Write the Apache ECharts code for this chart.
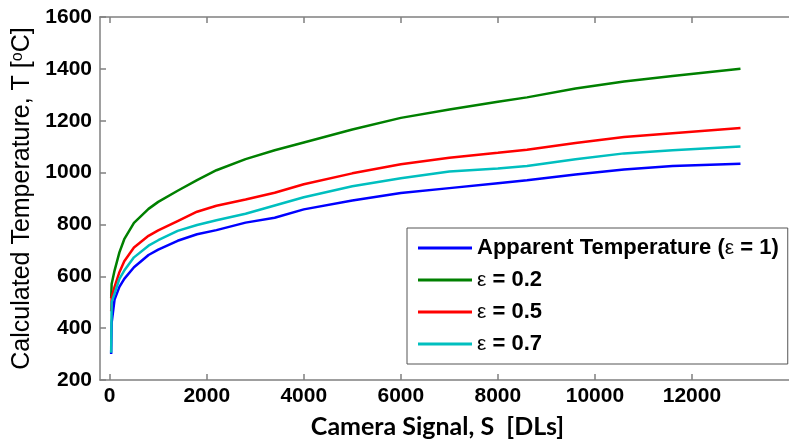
<!DOCTYPE html>
<html>
<head>
<meta charset="utf-8">
<script src="https://cdn.jsdelivr.net/npm/echarts@6/dist/echarts.min.js"></script>
<style>
  html, body { margin: 0; padding: 0; background: #fff; }
  #chart { width: 789px; height: 444px; }
</style>
</head>
<body>
<div id="chart"></div>
<script>
// camera signal (DLs)
const signal = [30, 40, 100, 200, 300, 500, 800, 1000, 1400, 1800, 2200, 2800, 3400, 4000, 5000, 6000, 7000, 8000, 8600, 9600, 10600, 11600, 13000];
// calculated temperature (°C)
const tApparent = [300, 420, 510, 559, 590, 635, 682, 703, 737, 762, 778, 807, 826, 858, 892, 921, 940, 959, 970, 993, 1012, 1025, 1034];
const tEps02 = [515, 570, 622, 692, 743, 806, 860, 887, 930, 971, 1009, 1052, 1086, 1116, 1166, 1211, 1243, 1273, 1290, 1324, 1351, 1372, 1400];
const tEps05 = [465, 520, 559, 616, 658, 711, 756, 777, 813, 849, 872, 896, 922, 955, 997, 1032, 1057, 1076, 1088, 1114, 1137, 1152, 1172];
const tEps07 = [305, 500, 533, 590, 622, 673, 718, 739, 775, 798, 816, 841, 873, 905, 947, 978, 1004, 1016, 1025, 1051, 1074, 1086, 1101];

const seriesNames = ['Apparent Temperature (ε = 1)', 'ε = 0.2', 'ε = 0.5', 'ε = 0.7'];
const seriesColors = ['#0000ff', '#008000', '#ff0000', '#00bfbf'];
const seriesValues = [tApparent, tEps02, tEps05, tEps07];

const xTicks = [0, 2000, 4000, 6000, 8000, 10000, 12000];

const axisGray = '#808080';

const chart = echarts.init(document.getElementById('chart'), null, { renderer: 'canvas' });

const option = {
    animation: false,
    backgroundColor: '#fff',
    grid: { left: 100, right: -21, top: 17, bottom: 60, containLabel: false },
    legend: {
        orient: 'vertical',
        left: 407,
        top: 228,
        data: seriesNames,
        icon: 'rect',
        itemWidth: 54,
        itemHeight: 3,
        itemGap: 10,
        padding: [9, 9, 9, 11],
        borderColor: '#555',
        borderWidth: 1,
        borderRadius: 0,
        backgroundColor: '#fff',
        formatter: name => name.replace('ε', '{e|ε}'),
        textStyle: {
            fontFamily: 'Liberation Sans',
            fontWeight: 'bold',
            fontSize: 22,
            lineHeight: 22,
            color: '#000',
            rich: {
                e: { fontFamily: 'Liberation Sans', fontWeight: 'normal', fontSize: 21, lineHeight: 22, color: '#000' }
            }
        }
    },
    xAxis: [
        {
            type: 'value',
            min: -200,
            max: 14000,
            name: 'Camera Signal, S  [DLs]',
            nameLocation: 'middle',
            nameGap: 34,
            nameTextStyle: {
                fontFamily: 'Lato', fontWeight: 'bold', fontSize: 25, color: '#000',
                padding: [0, 14, 0, 0]
            },
            axisLine: { onZero: false, lineStyle: { color: axisGray, width: 1.5 } },
            axisTick: { inside: true, length: 6, customValues: xTicks, lineStyle: { color: axisGray, width: 1.5 } },
            axisLabel: {
                margin: 6,
                customValues: xTicks,
                formatter: v => String(v),
                fontFamily: 'Liberation Sans', fontWeight: 'bold', fontSize: 21, color: '#000'
            },
            splitLine: { show: false }
        },
        {
            type: 'value',
            position: 'top',
            min: -200,
            max: 14000,
            axisLine: { onZero: false, lineStyle: { color: axisGray, width: 1.5 } },
            axisTick: { inside: true, length: 6, customValues: xTicks, lineStyle: { color: axisGray, width: 1.5 } },
            axisLabel: { show: false },
            splitLine: { show: false }
        }
    ],
    yAxis: {
        type: 'value',
        min: 200,
        max: 1600,
        interval: 200,
        name: 'Calculated Temperature, T [{s|o}C]',
        nameLocation: 'middle',
        nameGap: 50,
        nameTextStyle: {
            fontFamily: 'Liberation Sans', fontSize: 25, color: '#000',
            rich: { s: { fontFamily: 'Liberation Sans', fontSize: 16, verticalAlign: 'top', lineHeight: 25, color: '#000' } }
        },
        axisLine: { onZero: false, lineStyle: { color: axisGray, width: 1.5 } },
        axisTick: { inside: true, length: 6, lineStyle: { color: axisGray, width: 1.5 } },
        axisLabel: {
            margin: 8,
            formatter: v => String(v),
            fontFamily: 'Liberation Sans', fontWeight: 'bold', fontSize: 21, color: '#000'
        },
        splitLine: { show: false }
    },
    series: seriesNames.map((name, i) => ({
        name: name,
        type: 'line',
        xAxisIndex: 0,
        symbol: 'none',
        smooth: false,
        color: seriesColors[i],
        lineStyle: { color: seriesColors[i], width: 2.5 },
        data: signal.map((s, k) => [s, seriesValues[i][k]])
    }))
};

chart.setOption(option);
</script>
</body>
</html>
